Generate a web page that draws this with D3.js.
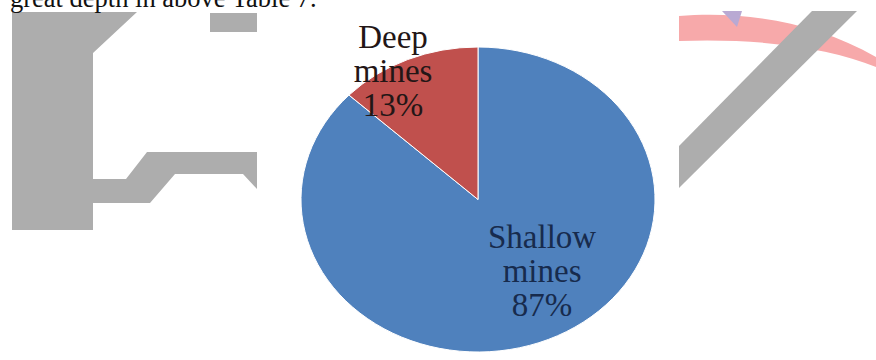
<!DOCTYPE html>
<html>
<head>
<meta charset="utf-8">
<script src="https://cdn.jsdelivr.net/npm/d3@7"></script>
<style>
  html, body { margin: 0; padding: 0; background: #fff; }
  svg { display: block; }
</style>
</head>
<body>
<svg id="chart" width="876" height="360"></svg>
<script>
// Mine categories and their share of the total (percent)
const categories = ["Shallow mines", "Deep mines"];
const shares = [87, 13];
const sliceColors = ["#4f81bd", "#c0504d"];
const labelColors = ["#172b4d", "#231616"];

// Running text of the page above the figure
const captionText = "great depth in above Table 7.";

const W = 876, H = 360;
const svg = d3.select("#chart");

// ---- page background: faded logo shapes behind the figure ----
const bg = svg.append("g");
const grey = "#adadad";
const line = d3.line();

// left logo block
bg.append("path")
  .attr("d", line([[12,12],[137,12],[93,53],[93,179],[126,179],[147,152],[257,152],
                   [257,189],[243,174],[175,174],[150,203],[93,203],[93,230],[12,230]]) + "Z")
  .attr("fill", grey);
bg.append("rect").attr("x", 210).attr("y", 13).attr("width", 47).attr("height", 19).attr("fill", grey);

// right: pink crescent, purple marker, diagonal bar
bg.append("path")
  .attr("d", "M679,16 C740,11 812,20 876,57 L876,67 C830,48 760,38 679,41 Z")
  .attr("fill", "#f7a9aa");
bg.append("path")
  .attr("d", line([[722,11],[742,11],[737,27]]) + "Z")
  .attr("fill", "#b9a9d3");
bg.append("path")
  .attr("d", line([[812,11],[857,11],[679,188],[679,146]]) + "Z")
  .attr("fill", grey);

// white figure panel
svg.append("rect").attr("x", 257).attr("y", 11).attr("width", 422).attr("height", H - 11).attr("fill", "#fff");

// caption line, cut off by the top of the page
svg.append("text")
  .attr("x", 10).attr("y", 7)
  .attr("font-family", "'Liberation Serif', 'Times New Roman', serif")
  .attr("font-size", 26.5)
  .attr("fill", "#111")
  .text(captionText);

// ---- pie ----
const cx = 478, cy = 199.5, rx = 177, ry = 152.5;
const data = categories.map((c, i) => ({ name: c, value: shares[i], color: sliceColors[i], labelColor: labelColors[i] }));

const pie = d3.pie().value(d => d.value).sort(null);
const arc = d3.arc().innerRadius(0).outerRadius(ry);
const arcs = pie(data);

const pieG = svg.append("g")
  .attr("transform", `translate(${cx},${cy}) scale(${rx / ry},1)`);

pieG.selectAll("path.slice")
  .data(arcs)
  .join("path")
  .attr("class", "slice")
  .attr("d", arc)
  .attr("fill", d => d.data.color)
  .attr("stroke", "#ffffff")
  .attr("stroke-width", 1)
  .attr("vector-effect", "non-scaling-stroke");

// label anchors as fractions of the radii (best-fit placement inside the slices)
const labelAnchor = { "Shallow mines": [0.362, 0.47], "Deep mines": [-0.48, -0.84] };
const lineStep = 34;

const labels = svg.append("g")
  .attr("font-family", "'Liberation Serif', 'Times New Roman', serif")
  .attr("font-size", 33)
  .attr("text-anchor", "middle");

arcs.forEach(a => {
  const [fx, fy] = labelAnchor[a.data.name];
  const x = cx + fx * rx, y = cy + fy * ry;
  const parts = a.data.name.split(" ");
  const pct = Math.round(a.data.value / d3.sum(shares) * 100) + "%";
  const lines = [...parts, pct];
  const t = labels.append("text").attr("fill", a.data.labelColor);
  lines.forEach((s, i) => {
    t.append("tspan")
      .attr("x", x)
      .attr("y", y + (i - (lines.length - 1) / 2) * lineStep + 11)
      .text(s);
  });
});
</script>
</body>
</html>
